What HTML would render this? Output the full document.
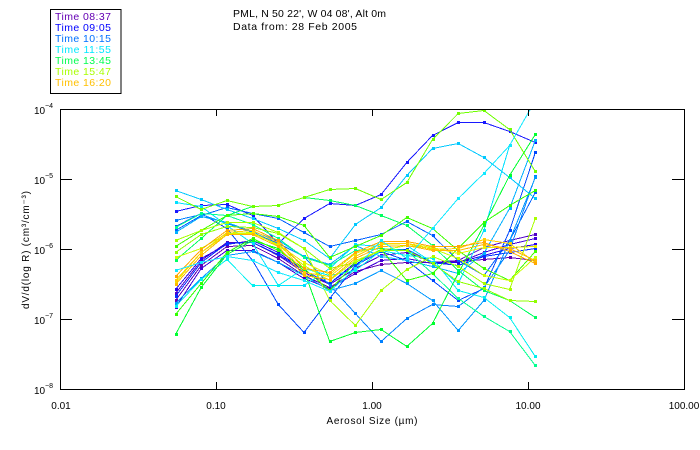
<!DOCTYPE html>
<html><head><meta charset="utf-8"><style>
html,body{margin:0;padding:0;background:#fff;}
svg{display:block;}
text{font-family:"Liberation Sans",sans-serif;fill:#000;}
</style></head><body>
<svg width="700" height="450" viewBox="0 0 700 450" xmlns="http://www.w3.org/2000/svg">
<defs>
<clipPath id="pc"><rect x="60.5" y="109.5" width="624" height="280"/></clipPath>
</defs>
<!-- Legend -->
<rect x="50.5" y="9.5" width="70.5" height="84" fill="none" stroke="#000" stroke-width="1"/>
<g font-size="10.5">
<text x="55" y="20" textLength="56" style="fill:#6400b4">Time 08:37</text>
<text x="55" y="31" textLength="56" style="fill:#0000ff">Time 09:05</text>
<text x="55" y="42" textLength="56" style="fill:#0070ff">Time 10:15</text>
<text x="55" y="53" textLength="56" style="fill:#00e8ff">Time 11:55</text>
<text x="55" y="64" textLength="56" style="fill:#00ff50">Time 13:45</text>
<text x="55" y="75" textLength="56" style="fill:#a8ff00">Time 15:47</text>
<text x="55" y="86" textLength="56" style="fill:#ffc000">Time 16:20</text>
</g>
<!-- Title -->
<text x="233" y="17" font-size="10.5" textLength="153">PML, N 50 22', W 04 08', Alt 0m</text>
<text x="233" y="30" font-size="10.5" textLength="124">Data from: 28 Feb 2005</text>

<!-- Series -->
<g clip-path="url(#pc)" fill="none" stroke-width="1" shape-rendering="crispEdges">
<g id="series"></g>
</g>

<!-- Axes box -->
<g stroke="#000" stroke-width="1" shape-rendering="crispEdges" fill="none">
<rect x="60.5" y="109.5" width="624" height="280"/>
<path d="M60 179.5h12M60 249.5h12M60 319.5h12M684 179.5h-12M684 249.5h-12M684 319.5h-12"/>
<path d="M216.5 389v-7M372.5 389v-7M528.5 389v-7M216.5 109v7M372.5 109v7M528.5 109v7"/>
</g>
<!-- Y tick labels -->
<g font-size="10">
<text x="34" y="114">10</text><text x="45" y="108" font-size="7">−4</text>
<text x="34" y="184">10</text><text x="45" y="178" font-size="7">−5</text>
<text x="34" y="254">10</text><text x="45" y="248" font-size="7">−6</text>
<text x="34" y="324">10</text><text x="45" y="318" font-size="7">−7</text>
<text x="34" y="394">10</text><text x="45" y="388" font-size="7">−8</text>
</g>
<!-- X tick labels -->
<g font-size="10" text-anchor="middle">
<text x="61" y="409">0.01</text>
<text x="216" y="409">0.10</text>
<text x="372" y="409">1.00</text>
<text x="528" y="409">10.00</text>
<text x="684" y="409">100.00</text>
<text x="372" y="424" textLength="91">Aerosol Size (µm)</text>
</g>
<text transform="translate(29,250) rotate(-90)" font-size="10" text-anchor="middle" textLength="118">dV/d(log R) (cm³/cm⁻³)</text>

<script>
(function(){
var xs=[175.5,201.2,226.9,252.6,278.3,304,329.7,355.4,381.1,406.8,432.5,458.2,483.9,509.6,535.3];
var S=[
["#6000b4",[300,265,246,245,258,275,287,271,264,262,262,261,259,257,260]],
["#5000c8",[293,260,242,242,255,272,284,268,255,252,262,260,247,240,234]],
["#4000d8",[307,268,250,250,262,278,288,273,260,258,263,262,252,244,238]],
["#2800f0",[289,258,244,240,252,270,283,262,250,250,262,262,255,248,244]],
["#1818ff",[211,205,204,215,243,218,203,205,194,162,135,122,122,131,142]],
["#0030ff",[296,262,243,242,254,270,283,264,249,249,262,265,256,252,248]],
["#0048ff",[226,213,228,260,304,332,298,265,251,260,280,300,288,230,152]],
["#0060ff",[230,215,207,213,218,232,246,240,234,221,235,260,275,240,192]],
["#0080ff",[220,214,223,232,243,256,285,313,341,318,304,306,287,250,176]],
["#0098ff",[303,278,255,251,262,275,290,283,270,283,300,330,300,240,177]],
["#00b0ff",[232,216,222,231,240,256,264,245,256,260,266,273,253,208,140]],
["#00c8ff",[190,199,209,218,228,240,258,224,207,175,148,143,157,177,198]],
["#00e0ff",[202,206,225,243,285,285,268,244,246,245,262,283,230,145,100]],
["#00f0f0",[306,279,259,285,285,268,275,270,250,255,258,290,297,317,356]],
["#00ff90",[227,213,215,224,238,257,265,250,248,250,273,298,316,331,365]],
["#00ff60",[260,238,215,206,205,197,200,205,215,225,245,270,290,300,317]],
["#00ff30",[334,287,254,240,248,270,341,332,329,346,323,273,225,175,134]],
["#30ff00",[314,283,252,238,250,268,290,262,249,280,273,248,222,205,190]],
["#40ff00",[246,230,215,213,216,225,257,246,235,217,228,250,268,280,251]],
["#70ff00",[196,209,200,206,205,197,189,188,199,182,139,113,110,129,171]],
["#90ff00",[252,234,226,227,233,248,268,262,250,250,263,281,288,300,301]],
["#a8ff00",[240,230,222,222,232,248,300,325,290,269,256,266,283,289,218]],
["#c8ff00",[257,248,233,232,245,265,280,260,250,245,248,258,275,280,257]],
["#e8f000",[282,252,234,233,244,262,274,253,244,243,247,253,247,247,246]],
["#ffd000",[280,252,232,230,242,272,276,256,243,243,249,248,239,243,262]],
["#ffa800",[276,249,230,228,240,268,272,252,241,241,246,246,242,251,263]],
["#ffb800",[284,255,234,234,246,275,279,258,246,245,250,250,244,248,260]],
["#10e8ff",[270,262,256,260,272,280,291,268,240,258,228,198,173,145,100]]
];
var ns="http://www.w3.org/2000/svg",g=document.getElementById("series");
S.forEach(function(s){
  var pts=s[1].map(function(y,i){return xs[i]+","+(y+0.5);}).join(" ");
  var p=document.createElementNS(ns,"polyline");
  p.setAttribute("points",pts);p.setAttribute("stroke",s[0]);p.setAttribute("fill","none");
  g.appendChild(p);
  s[1].forEach(function(y,i){
    var r=document.createElementNS(ns,"rect");
    r.setAttribute("x",Math.round(xs[i])-1);r.setAttribute("y",y-1);
    r.setAttribute("width",3);r.setAttribute("height",3);
    r.setAttribute("fill",s[0]);r.setAttribute("stroke","none");
    g.appendChild(r);
  });
});
})();
</script>
</svg>
</body></html>
